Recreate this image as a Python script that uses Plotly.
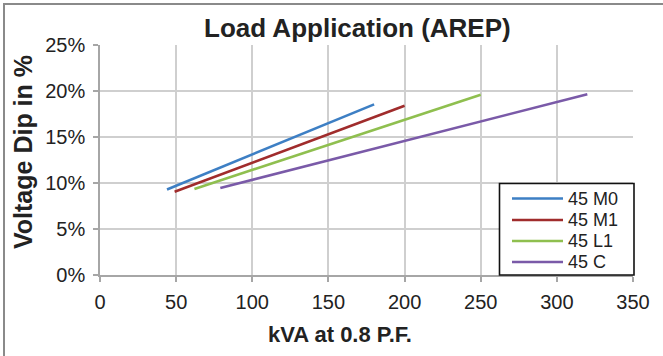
import plotly.graph_objects as go

# Data (kVA at 0.8 P.F. vs voltage dip in %)
series_names = ["45 M0", "45 M1", "45 L1", "45 C"]
kva_m0 = [44, 180]
dip_m0 = [9.3, 18.55]
kva_m1 = [49, 200]
dip_m1 = [9.05, 18.4]
kva_l1 = [62, 250]
dip_l1 = [9.35, 19.6]
kva_c = [79, 320]
dip_c = [9.45, 19.65]

x_ticks = [0, 50, 100, 150, 200, 250, 300, 350]
y_ticks = [0, 5, 10, 15, 20, 25]
y_tick_labels = [f"{v}%" for v in y_ticks]

colors = ["#3d7fc4", "#a02c2c", "#8fbf4f", "#7a5aa8"]

FONT = "Liberation Sans, Arial, sans-serif"

fig = go.Figure()
for name, xs, ys, c in zip(series_names,
                           [kva_m0, kva_m1, kva_l1, kva_c],
                           [dip_m0, dip_m1, dip_l1, dip_c],
                           colors):
    fig.add_trace(go.Scatter(x=xs, y=ys, mode="lines", name=name,
                             line=dict(color=c, width=2.6), showlegend=False))

L, R, T, B = 100, 30, 45, 81
W, H = 663, 356
pw, ph = W - L - R, H - T - B

def px2paper_x(px):
    return (px - L) / pw

def px2paper_y(py):
    return (H - B - py) / ph

# Legend box (drawn as a boxed key in paper coordinates)
shapes = [
    dict(type="rect", xref="paper", yref="paper", layer="below",
         x0=px2paper_x(4), x1=px2paper_x(700),
         y0=px2paper_y(400), y1=px2paper_y(4),
         line=dict(color="#8a8a8a", width=2), fillcolor="rgba(0,0,0,0)"),
    dict(type="rect", xref="paper", yref="paper", layer="above",
         x0=px2paper_x(499.5), x1=px2paper_x(634),
         y0=px2paper_y(275), y1=px2paper_y(183.5),
         line=dict(color="#111111", width=1.6), fillcolor="white"),
]
annotations = [
    dict(text="<b>Load Application (AREP)</b>", xref="paper", yref="paper",
         x=px2paper_x(357), y=px2paper_y(28), xanchor="center", yanchor="middle",
         showarrow=False, font=dict(family=FONT, size=26, color="#222222")),
    dict(text="<b>kVA at 0.8 P.F.</b>", xref="paper", yref="paper",
         x=px2paper_x(340), y=px2paper_y(334), xanchor="center", yanchor="middle",
         showarrow=False, font=dict(family=FONT, size=22, color="#222222")),
    dict(text="<b>Voltage Dip in %</b>", xref="paper", yref="paper",
         x=px2paper_x(23), y=px2paper_y(152), xanchor="center", yanchor="middle",
         textangle=-90,
         showarrow=False, font=dict(family=FONT, size=25, color="#222222")),
]
row_y = [198.5, 220, 241, 262]
for name, c, ry in zip(series_names, colors, row_y):
    shapes.append(dict(type="line", xref="paper", yref="paper", layer="above",
                       x0=px2paper_x(512), x1=px2paper_x(563),
                       y0=px2paper_y(ry), y1=px2paper_y(ry),
                       line=dict(color=c, width=2.6)))
    annotations.append(dict(text=name, xref="paper", yref="paper",
                            x=px2paper_x(566), y=px2paper_y(ry),
                            xanchor="left", yanchor="middle", showarrow=False,
                            font=dict(family=FONT, size=18, color="#222222")))

fig.update_layout(
    width=W, height=H,
    margin=dict(l=L, r=R, t=T, b=B, pad=0),
    paper_bgcolor="white", plot_bgcolor="white",
    font=dict(family=FONT, color="#222222", size=20),
    showlegend=False,
    xaxis=dict(
        range=[0, 350], tickvals=x_ticks, ticktext=[str(v) for v in x_ticks],
        showgrid=True, gridcolor="#cfcfcf", gridwidth=1.5,
        showline=True, linecolor="#a6a6a6", linewidth=1.5,
        ticks="outside", ticklen=5, tickcolor="#a6a6a6", tickwidth=1.5,
        tickfont=dict(family=FONT, size=20, color="#222222"),
        ticklabelstandoff=3, automargin=False,
        zeroline=False, fixedrange=True,
    ),
    yaxis=dict(
        range=[0, 25], tickvals=y_ticks, ticktext=y_tick_labels,
        showgrid=True, gridcolor="#cfcfcf", gridwidth=1.5,
        showline=True, linecolor="#a6a6a6", linewidth=1.5,
        ticks="outside", ticklen=5, tickcolor="#a6a6a6", tickwidth=1.5,
        tickfont=dict(family=FONT, size=20, color="#222222"),
        ticklabelstandoff=4, automargin=False,
        zeroline=False, fixedrange=True,
    ),
    annotations=annotations,
    shapes=shapes,
)

fig.write_html("out.html")
